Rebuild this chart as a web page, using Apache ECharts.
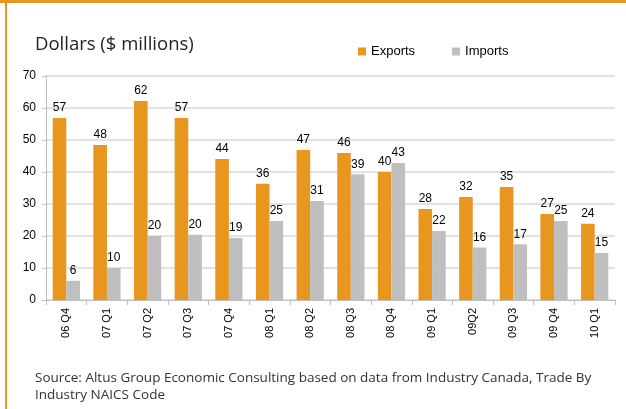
<!DOCTYPE html>
<html>
<head>
<meta charset="utf-8">
<script src="https://cdn.jsdelivr.net/npm/echarts@6/dist/echarts.min.js"></script>
<style>
  html, body { margin: 0; padding: 0; background: #fff; }
  #chart { width: 626px; height: 409px; }
</style>
</head>
<body>
<div id="chart"></div>
<script>
// quarters on the x axis
const quarters = ['06 Q4', '07 Q1', '07 Q2', '07 Q3', '07 Q4', '08 Q1', '08 Q2',
  '08 Q3', '08 Q4', '09 Q1', '09Q2', '09 Q3', '09 Q4', '10 Q1'];
// $ millions
const exportsVals = [56.9, 48.4, 62.2, 56.9, 44.1, 36.3, 46.9, 45.9, 40.0, 28.4, 32.2, 35.3, 26.9, 23.8];
const importsVals = [6.0, 10.0, 20.0, 20.4, 19.4, 24.7, 30.9, 39.3, 42.8, 21.6, 16.4, 17.4, 24.7, 14.7];
const yTicks = { min: 0, max: 70, interval: 10 };

const ORANGE = '#E9961F';
const GREY = '#BFBFBF';
const font = 'Liberation Sans, Arial, sans-serif';

const chart = echarts.init(document.getElementById('chart'));

const labelStyle = {
  show: true,
  position: 'top',
  distance: 4,
  color: '#000',
  fontFamily: font,
  fontSize: 12,
  formatter: p => Math.round(p.value)
};

chart.setOption({
  animation: false,
  graphic: [
    { type: 'rect', shape: { x: 0, y: 0, width: 626, height: 3 }, style: { fill: ORANGE } },
    { type: 'rect', shape: { x: 5, y: 0, width: 2, height: 409 }, style: { fill: ORANGE } },
    {
      type: 'text', left: 35, top: 35,
      style: { text: 'Dollars ($ millions)', font: '18.5px "Open Sans", sans-serif', fill: '#222' }
    },
    {
      type: 'text', left: 35, top: 370,
      style: {
        text: 'Source: Altus Group Economic Consulting based on data from Industry Canada, Trade By\nIndustry NAICS Code',
        font: '13.5px "Open Sans", sans-serif', fill: '#333', lineHeight: 17
      }
    }
  ],
  legend: {
    top: 40,
    left: 353,
    itemWidth: 8,
    itemHeight: 8,
    itemGap: 37,
    icon: 'rect',
    textStyle: { fontFamily: font, fontSize: 13, color: '#000' },
    data: ['Exports', 'Imports']
  },
  grid: { left: 46, right: 11, top: 76, bottom: 109 },
  xAxis: {
    type: 'category',
    data: quarters,
    axisLine: { lineStyle: { color: '#bfbfbf', width: 1 } },
    axisTick: { show: true, length: 5, lineStyle: { color: '#bfbfbf' } },
    axisLabel: {
      rotate: 90,
      margin: 8,
      color: '#000',
      fontFamily: font,
      fontSize: 11
    }
  },
  yAxis: {
    type: 'value',
    min: yTicks.min,
    max: yTicks.max,
    interval: yTicks.interval,
    axisLine: { show: true, lineStyle: { color: '#bfbfbf' } },
    axisTick: { show: true, length: 4, lineStyle: { color: '#bfbfbf' } },
    axisLabel: { color: '#000', fontFamily: font, fontSize: 12, margin: 10 },
    splitLine: { lineStyle: { color: '#d9d9d9', width: 1.5 } }
  },
  series: [
    {
      name: 'Exports',
      type: 'bar',
      data: exportsVals,
      barGap: '0%',
      barCategoryGap: '33%',
      itemStyle: { color: ORANGE },
      label: labelStyle
    },
    {
      name: 'Imports',
      type: 'bar',
      data: importsVals,
      itemStyle: { color: GREY },
      label: labelStyle
    }
  ]
});
</script>
</body>
</html>
